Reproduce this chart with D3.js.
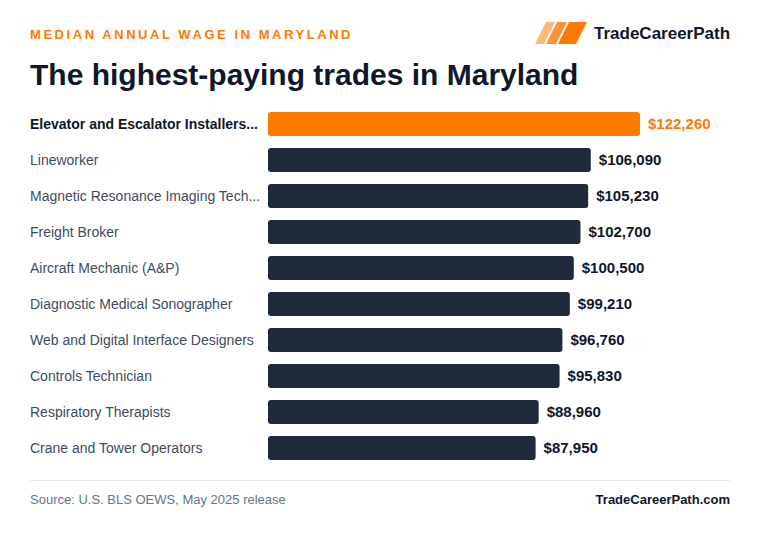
<!DOCTYPE html>
<html><head><meta charset="utf-8">
<script src="https://cdn.jsdelivr.net/npm/d3@7"></script>
<style>body{margin:0;background:#fff;}svg{display:block;font-family:"Liberation Sans",Arial,sans-serif;}</style>
</head><body>
<script>
const categories = ["Elevator and Escalator Installers...","Lineworker","Magnetic Resonance Imaging Tech...","Freight Broker","Aircraft Mechanic (A&P)","Diagnostic Medical Sonographer","Web and Digital Interface Designers","Controls Technician","Respiratory Therapists","Crane and Tower Operators"];
const wages = [122260,106090,105230,102700,100500,99210,96760,95830,88960,87950];
const valueLabels = ["$122,260","$106,090","$105,230","$102,700","$100,500","$99,210","$96,760","$95,830","$88,960","$87,950"];

const W=760,H=536;
const svg=d3.select("body").append("svg").attr("width",W).attr("height",H);
svg.append("rect").attr("width",W).attr("height",H).attr("fill","#fff");

svg.append("text").attr("x",30).attr("y",39).text("MEDIAN ANNUAL WAGE IN MARYLAND")
 .attr("fill","#ff7a00").attr("font-size",13).attr("font-weight","bold").attr("letter-spacing",2.55);
svg.append("text").attr("x",30).attr("y",85).text("The highest-paying trades in Maryland")
 .attr("fill","#0f172a").attr("font-size",30).attr("font-weight","bold");

// logo
const logoShapes=[
  {c:"#fdba74",d:"M546,22 L555,22 L544,44 L535,44 Z"},
  {c:"#fb923c",d:"M557,22 L567,22 L556,44 L546,44 Z"},
  {c:"#ff7a00",d:"M569,22 L587,22 L576,44 L558,44 Z"}];
logoShapes.forEach(s=>svg.append("path").attr("d",s.d).attr("fill",s.c));
svg.append("text").attr("x",594).attr("y",39).text("TradeCareerPath")
 .attr("fill","#0f172a").attr("font-size",17).attr("font-weight","bold");

const x=d3.scaleLinear().domain([0,d3.max(wages)]).range([268,640]);
const y=d3.scaleBand().domain(categories).range([106,466]).paddingInner(0.333).paddingOuter(0.1667);

const g=svg.append("g");
categories.forEach((c,i)=>{
  const top=i===0;
  g.append("rect").attr("x",x(0)).attr("y",y(c)).attr("width",x(wages[i])-x(0)).attr("height",y.bandwidth())
   .attr("rx",3).attr("fill",top?"#ff7b00":"#1f2a3d");
  g.append("text").attr("x",30).attr("y",y(c)+y.bandwidth()/2).attr("dy","0.35em").text(c)
   .attr("font-size",14).attr("fill",top?"#0f172a":"#3f4b5e").attr("font-weight",top?"bold":"normal");
  g.append("text").attr("x",x(wages[i])+8).attr("y",y(c)+y.bandwidth()/2).attr("dy","0.35em").text(valueLabels[i])
   .attr("font-size",15).attr("font-weight","bold").attr("fill",top?"#ff7a00":"#0f172a");
});

svg.append("line").attr("x1",30).attr("x2",730).attr("y1",480.5).attr("y2",480.5).attr("stroke","#e6e8f2");
svg.append("text").attr("x",30).attr("y",504).text("Source: U.S. BLS OEWS, May 2025 release")
 .attr("font-size",13).attr("fill","#64748b");
svg.append("text").attr("x",730).attr("y",504).attr("text-anchor","end").text("TradeCareerPath.com")
 .attr("font-size",13).attr("font-weight","bold").attr("fill","#0f172a");
</script>
</body></html>
